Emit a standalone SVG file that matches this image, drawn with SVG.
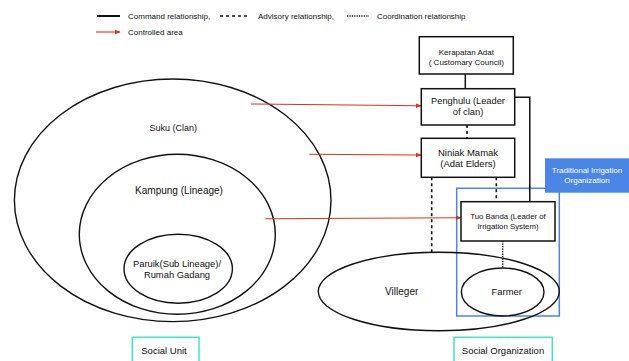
<svg xmlns="http://www.w3.org/2000/svg" width="629" height="361" viewBox="0 0 629 361">
<style>
text{font-family:"Liberation Sans",Arial,sans-serif;fill:#111}
.b{fill:#fff;stroke:#111;stroke-width:1.5}
.e{fill:none;stroke:#111;stroke-width:1.4}
.sol{fill:none;stroke:#111;stroke-width:1.5}
.dash{fill:none;stroke:#111;stroke-width:1.6;stroke-dasharray:3 3}
.dot{fill:none;stroke:#111;stroke-width:1.5;stroke-dasharray:1.2 1.3}
.red{fill:none;stroke:#e0301e;stroke-width:1.1;marker-end:url(#ah)}
.teal{fill:none;stroke:#3ee6c6;stroke-width:1.5}
</style>
<defs>
<marker id="ah" viewBox="0 0 10 10" refX="9" refY="5" markerWidth="6" markerHeight="6" markerUnits="userSpaceOnUse" orient="auto">
<path d="M0,1 L10,5 L0,9 z" fill="#e0301e"/>
</marker>
</defs>
<g id="legend">
<line x1="97" y1="16" x2="120" y2="16" stroke="#111" stroke-width="2"/>
<text x="128" y="19" font-size="8">Command relationship,</text>
<line x1="220" y1="16" x2="250" y2="16" stroke="#111" stroke-width="1.6" stroke-dasharray="3 3"/>
<text x="258" y="19" font-size="8">Advisory relationship,</text>
<line x1="347" y1="16" x2="369" y2="16" stroke="#111" stroke-width="1.3" stroke-dasharray="1.2 1.2"/>
<text x="377" y="19" font-size="8">Coordination relationship</text>
<line x1="96" y1="32" x2="120" y2="32" class="red"/>
<text x="128" y="35" font-size="8">Controlled area</text>
</g>
<g id="social-unit-circles">
<ellipse id="suku" cx="172.7" cy="200.3" rx="158.3" ry="121.3" class="e"/>
<text x="173.3" y="130.5" font-size="9" text-anchor="middle">Suku (Clan)</text>
<ellipse id="kampung" cx="177.3" cy="234.3" rx="98" ry="80" class="e"/>
<text x="179" y="194" font-size="10" text-anchor="middle">Kampung (Lineage)</text>
<ellipse id="paruik" cx="178.2" cy="268.8" rx="54.2" ry="34.5" class="e"/>
<text x="177" y="266.5" font-size="9.4" text-anchor="middle">Paruik(Sub Lineage)/</text>
<text x="177" y="278" font-size="9.4" text-anchor="middle">Rumah Gadang</text>
</g>
<g id="irrigation-org">
<rect x="456.7" y="188.3" width="102.6" height="127.7" fill="none" stroke="#4a86e8" stroke-width="1.5"/>
<rect x="545" y="158.3" width="84" height="34.4" fill="#4a86e8"/>
<text x="587" y="173" font-size="8" text-anchor="middle" fill="#fff" style="fill:#fff">Traditional Irrigation</text>
<text x="587" y="183" font-size="8" text-anchor="middle" style="fill:#fff">Organization</text>
</g>
<g id="villeger">
<ellipse cx="438.8" cy="291.5" rx="120.5" ry="39.2" class="e"/>
<text x="401.7" y="295" font-size="10" text-anchor="middle">Villeger</text>
</g>
<g id="farmer">
<ellipse cx="502.7" cy="292" rx="41.3" ry="24" class="e"/>
<text x="506.7" y="295.3" font-size="9.4" text-anchor="middle">Farmer</text>
</g>
<g id="connectors">
<line x1="465.3" y1="74" x2="465.3" y2="88.7" class="sol"/>
<polyline points="514.7,97.3 529.8,97.3 529.8,201.7" class="sol"/>
<line x1="467" y1="125" x2="467" y2="138.3" class="dash"/>
<line x1="431.7" y1="177.3" x2="431.7" y2="252.3" class="dash"/>
<line x1="496.3" y1="177.3" x2="496.3" y2="201.7" class="dash"/>
<line x1="502.7" y1="241" x2="502.7" y2="268.3" class="dot"/>
<line x1="251" y1="104" x2="421" y2="105.7" class="red"/>
<line x1="309.3" y1="154.3" x2="421" y2="155" class="red"/>
<line x1="265.3" y1="218.7" x2="461" y2="217.7" class="red"/>
</g>
<g id="kerapatan">
<rect x="419.3" y="36.7" width="94" height="37.3" class="b"/>
<text x="466.3" y="54.5" font-size="8" text-anchor="middle">Kerapatan Adat</text>
<text x="466.3" y="64.8" font-size="8" text-anchor="middle">( Customary Council)</text>
</g>
<g id="penghulu">
<rect x="421.3" y="88.7" width="93.4" height="36.3" class="b"/>
<text x="468" y="104.3" font-size="9.3" text-anchor="middle">Penghulu (Leader</text>
<text x="468" y="115" font-size="9.3" text-anchor="middle">of clan)</text>
</g>
<g id="niniak">
<rect x="421.3" y="138.3" width="93.4" height="39" class="b"/>
<text x="468" y="156" font-size="9.5" text-anchor="middle">Niniak Mamak</text>
<text x="468" y="167.3" font-size="9.5" text-anchor="middle">(Adat Elders)</text>
</g>
<g id="tuobanda">
<rect x="461" y="201.7" width="94" height="39.3" class="b"/>
<text x="508" y="218.8" font-size="7.8" text-anchor="middle">Tuo Banda (Leader of</text>
<text x="508" y="228.8" font-size="7.8" text-anchor="middle">Irrigation System)</text>
</g>
<g id="social-unit">
<rect x="132.3" y="337.3" width="66.7" height="30" class="teal"/>
<text x="164" y="354" font-size="9.5" text-anchor="middle">Social Unit</text>
</g>
<g id="social-organization">
<rect x="454" y="337.3" width="98.3" height="30" class="teal"/>
<text x="503" y="354" font-size="9.5" text-anchor="middle">Social Organization</text>
</g>
</svg>
